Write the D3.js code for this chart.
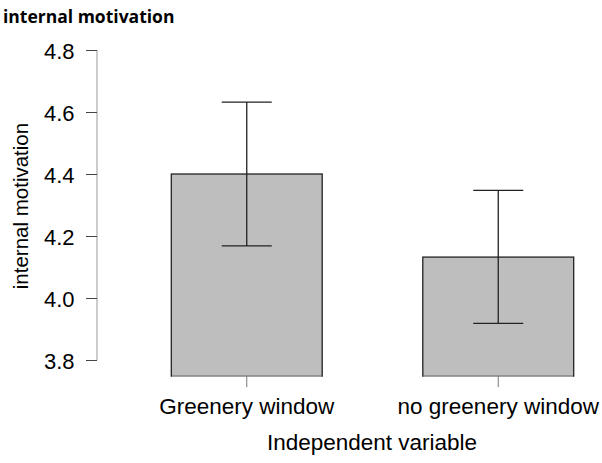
<!DOCTYPE html>
<html><head><meta charset="utf-8">
<script src="https://cdn.jsdelivr.net/npm/d3@7"></script>
<style>body{margin:0;background:#fff}</style>
</head><body>
<svg id="c" width="602" height="463"></svg>
<script>
const categories = ["Greenery window", "no greenery window"];
const means = [4.40, 4.132];
const upper = [4.632, 4.347];
const lower = [4.168, 3.918];
const yTicks = [3.8, 4.0, 4.2, 4.4, 4.6, 4.8];
const title = "internal motivation";
const yLabel = "internal motivation";
const xLabel = "Independent variable";
const yFloor = 3.748;

const svg = d3.select("#c");
const y = d3.scaleLinear().domain([3.8, 4.8]).range([360, 50]);
const x = d3.scaleBand().domain(categories).range([121, 624]).paddingInner(0.4).paddingOuter(0.2);

svg.append("text").attr("x", 3).attr("y", 23).attr("font-family", "Open Sans").attr("font-weight", "bold")
  .attr("font-size", 17.5).attr("fill", "#000").text(title);

// y axis
const ya = svg.append("g").attr("transform", "translate(97,0)")
  .call(d3.axisLeft(y).tickValues(yTicks).tickFormat(d3.format(".1f")).tickSize(11).tickPadding(11.5));
ya.select(".domain").attr("stroke", "#999").attr("d", `M0,${y(4.8)}V${y(3.8)}`);
ya.selectAll(".tick line").attr("stroke", "#444");
ya.selectAll(".tick text").attr("font-family", "Liberation Sans").attr("font-size", 22).attr("fill", "#000").attr("dy", "0.37em");

// bars
const bw = x.bandwidth();
svg.selectAll("rect.bar").data(categories).enter().append("rect")
  .attr("x", d => x(d)).attr("width", bw)
  .attr("y", (d, i) => y(means[i])).attr("height", (d, i) => y(yFloor) - y(means[i]))
  .attr("fill", "#bebebe").attr("stroke", "#222").attr("stroke-width", 1.3);
// cover bottom stroke
svg.selectAll("line.bb").data(categories).enter().append("line")
  .attr("x1", d => x(d) + 0.7).attr("x2", d => x(d) + bw - 0.7)
  .attr("y1", y(yFloor)).attr("y2", y(yFloor)).attr("stroke", "#bebebe").attr("stroke-width", 1.4);

// error bars
const eb = svg.selectAll("g.eb").data(categories).enter().append("g");
eb.append("line").attr("x1", d => x(d) + bw / 2).attr("x2", d => x(d) + bw / 2)
  .attr("y1", (d, i) => y(upper[i])).attr("y2", (d, i) => y(lower[i])).attr("stroke", "#222").attr("stroke-width", 1.3);
eb.append("line").attr("x1", d => x(d) + bw / 2 - 25).attr("x2", d => x(d) + bw / 2 + 25)
  .attr("y1", (d, i) => y(upper[i])).attr("y2", (d, i) => y(upper[i])).attr("stroke", "#222").attr("stroke-width", 1.3);
eb.append("line").attr("x1", d => x(d) + bw / 2 - 25).attr("x2", d => x(d) + bw / 2 + 25)
  .attr("y1", (d, i) => y(lower[i])).attr("y2", (d, i) => y(lower[i])).attr("stroke", "#222").attr("stroke-width", 1.3);

// x axis
const xa = svg.append("g").attr("transform", `translate(0,${y(yFloor)})`)
  .call(d3.axisBottom(x).tickSize(11).tickPadding(11.4));
xa.select(".domain").remove();
xa.selectAll(".tick line").attr("stroke", "#777");
xa.selectAll(".tick text").attr("font-family", "Liberation Sans").attr("font-size", 22.5).attr("fill", "#000");

svg.append("text").attr("x", 372).attr("y", 450).attr("text-anchor", "middle")
  .attr("font-family", "Liberation Sans").attr("font-size", 22.5).text(xLabel);
svg.append("text").attr("transform", "translate(27.5,206) rotate(-90)").attr("text-anchor", "middle")
  .attr("font-family", "Liberation Sans").attr("font-size", 20.5).text(yLabel);
</script>
</body></html>
